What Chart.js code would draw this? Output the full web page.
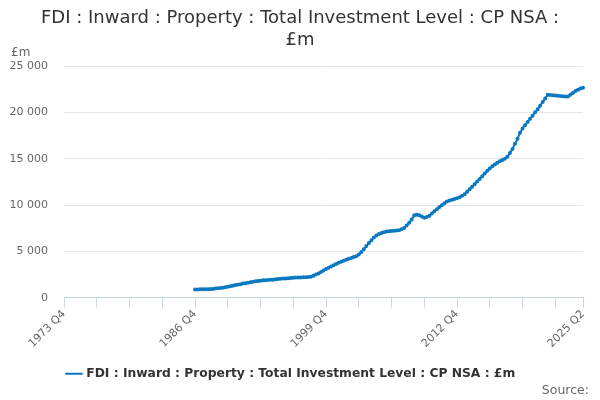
<!DOCTYPE html>
<html>
<head>
<meta charset="utf-8">
<script src="https://cdn.jsdelivr.net/npm/chart.js@4/dist/chart.umd.min.js"></script>
<style>
  html, body { margin: 0; padding: 0; background: #fff; }
  #wrap { width: 600px; height: 400px; position: relative; }
</style>
</head>
<body>
<div id="wrap"><canvas id="fdiChart"></canvas></div>
<script>
// Axis runs quarterly from 1973 Q4 to 2025 Q2, series starts in 1986 Q4
const firstYear = 1973;
const firstQuarter = 4;
const quarterCount = 207;
const seriesStart = 52; // index of 1986 Q4

const seriesName = 'FDI : Inward : Property : Total Investment Level : CP NSA : £m';
const titleLines = ['FDI : Inward : Property : Total Investment Level : CP NSA :', '£m'];
const yTicks = [0, 5000, 10000, 15000, 20000, 25000];

// £m, 1986 Q4 .. 2025 Q2
const investment = [
  880, 890, 900, 905, 910, 920, 930, 950, 980, 1010,
  1040, 1080, 1140, 1190, 1240, 1300, 1360, 1410, 1460, 1520,
  1570, 1620, 1670, 1720, 1770, 1810, 1840, 1870, 1890, 1910,
  1930, 1950, 1980, 2010, 2040, 2060, 2080, 2110, 2130, 2160,
  2170, 2180, 2190, 2200, 2210, 2230, 2270, 2380, 2490, 2610,
  2760, 2930, 3090, 3230, 3370, 3500, 3640, 3770, 3880, 3990,
  4090, 4190, 4280, 4380, 4470, 4650, 4920, 5240, 5570, 5890,
  6200, 6490, 6710, 6870, 6980, 7060, 7130, 7170, 7200, 7220,
  7240, 7290, 7380, 7530, 7790, 8090, 8430, 8890, 8960, 8900,
  8760, 8620, 8700, 8850, 9080, 9330, 9550, 9780, 9980, 10200,
  10380, 10500, 10580, 10640, 10730, 10850, 11000, 11150, 11420, 11700,
  11980, 12250, 12540, 12820, 13100, 13400, 13700, 13940, 14170, 14380,
  14560, 14720, 14860, 15000, 15220, 15600, 16050, 16600, 17150, 17800,
  18260, 18620, 18950, 19300, 19640, 20000, 20340, 20720, 21110, 21500,
  21900, 21880, 21850, 21820, 21790, 21760, 21740, 21720, 21700, 21900,
  22100, 22290, 22430, 22560, 22640
];

// Quarter labels
const labels = [];
for (let i = 0; i < quarterCount; i++) {
  const q = firstQuarter - 1 + i;
  labels.push((firstYear + Math.floor(q / 4)) + ' Q' + (q % 4 + 1));
}
const data = new Array(seriesStart).fill(null).concat(investment);

function spaced(v) {
  return String(v).replace(/\B(?=(\d{3})+(?!\d))/g, ' ');
}

// Title, unit label and source line
const extraText = {
  id: 'extraText',
  afterDraw(chart) {
    const ctx = chart.ctx;
    ctx.save();
    ctx.fillStyle = '#333333';
    ctx.font = '18px "DejaVu Sans"';
    ctx.textAlign = 'center';
    ctx.textBaseline = 'middle';
    ctx.fillText(titleLines[0], 300, 18);
    ctx.fillText(titleLines[1], 300, 40);

    ctx.fillStyle = '#666666';
    ctx.font = '12px "DejaVu Sans"';
    ctx.textAlign = 'left';
    ctx.fillText('£m', 11, 53);
    ctx.font = '12.5px "DejaVu Sans"';
    ctx.textAlign = 'right';
    ctx.fillText('Source:', 589, 391);
    ctx.restore();
  }
};

const ctx = document.getElementById('fdiChart').getContext('2d');
new Chart(ctx, {
  type: 'line',
  data: {
    labels: labels,
    datasets: [{
      label: seriesName,
      data: data,
      borderColor: '#0a79c1',
      backgroundColor: '#0a79c1',
      borderWidth: 2,
      pointRadius: 1,
      pointHoverRadius: 3,
      tension: 0,
      spanGaps: false
    }]
  },
  options: {
    responsive: true,
    maintainAspectRatio: false,
    animation: false,
    layout: { padding: { top: 66, right: 17, bottom: 10, left: 0 } },
    plugins: {
      title: { display: false },
      tooltip: { enabled: false },
      legend: {
        position: 'bottom',
        labels: {
          color: '#333333',
          font: { family: '"DejaVu Sans"', size: 12.3, weight: 'bold' },
          usePointStyle: true,
          pointStyle: 'line',
          boxWidth: 16,
          padding: 10
        }
      }
    },
    scales: {
      x: {
        afterFit(scale) { scale.height = 60; },
        border: { color: '#ccd6eb' },
        grid: {
          drawOnChartArea: false,
          drawTicks: true,
          tickLength: 10,
          color: '#ccd6eb'
        },
        ticks: {
          autoSkip: false,
          minRotation: 45,
          maxRotation: 45,
          color: '#666666',
          font: { family: '"DejaVu Sans"', size: 11 },
          padding: 0,
          callback(value, index) {
            const last = index === quarterCount - 1;
            if (index % 13 !== 0 && !last) return null;
            return (index % 52 === 0 || last) ? labels[index] : '';
          }
        }
      },
      y: {
        min: 0,
        max: 25000,
        afterFit(scale) { scale.width = 64; },
        afterBuildTicks(scale) { scale.ticks = yTicks.map(v => ({ value: v })); },
        border: { display: false },
        grid: { color: '#e6e6e6', drawTicks: false },
        ticks: {
          color: '#666666',
          font: { family: '"DejaVu Sans"', size: 11 },
          padding: 16,
          callback: v => spaced(v)
        }
      }
    }
  },
  plugins: [extraText]
});
</script>
</body>
</html>
